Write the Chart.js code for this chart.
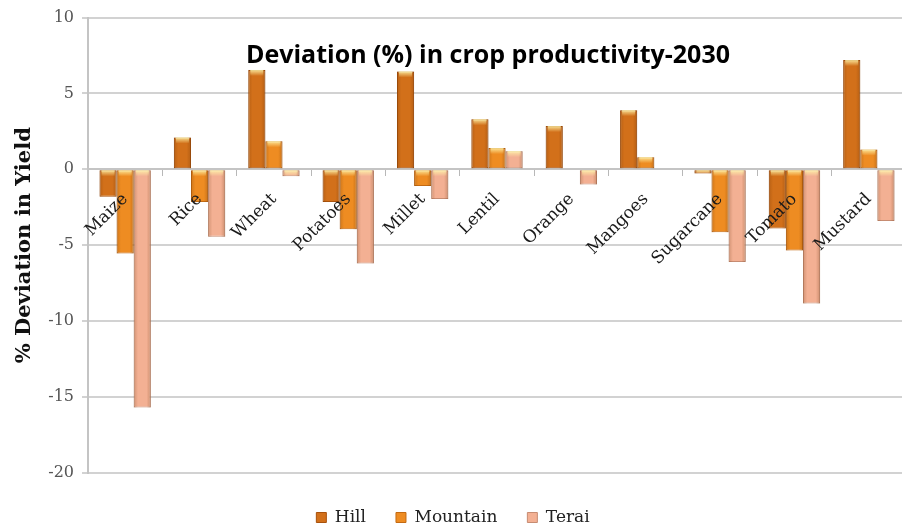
<!DOCTYPE html>
<html>
<head>
<meta charset="utf-8">
<script src="https://cdn.jsdelivr.net/npm/chart.js@4"></script>
<style>
  html, body { margin: 0; padding: 0; background: #fff; overflow: hidden; }
  #wrap { width: 906px; height: 529px; }
</style>
</head>
<body>
<div id="wrap"><canvas id="crops" width="906" height="529"></canvas></div>
<script>
// crop yield deviation by region, 2030
var crops = ['Maize', 'Rice', 'Wheat', 'Potatoes', 'Millet', 'Lentil', 'Orange', 'Mangoes', 'Sugarcane', 'Tomato', 'Mustard'];
var hill = [-1.8, 2.1, 6.55, -2.15, 6.45, 3.3, 2.85, 3.9, -0.27, -3.9, 7.2];
var mountain = [-5.55, -2.15, 1.85, -3.95, -1.1, 1.4, 0, 0.8, -4.15, -5.35, 1.3];
var terai = [-15.7, -4.45, -0.45, -6.2, -1.95, 1.2, -1.0, 0, -6.1, -8.85, -3.4];
var yTicks = [-20, -15, -10, -5, 0, 5, 10];

var serif = "'DejaVu Serif', serif";

// bevel look on each bar: darker edges, light band at the upper end
var barShade = {
  id: 'barShade',
  afterDatasetsDraw: function (chart) {
    var ctx = chart.ctx;
    chart.data.datasets.forEach(function (ds, i) {
      chart.getDatasetMeta(i).data.forEach(function (bar) {
        var p = bar.getProps(['x', 'y', 'base', 'width']);
        var left = p.x - p.width / 2;
        var top = Math.min(p.y, p.base);
        var h = Math.abs(p.base - p.y);
        if (h < 0.5) return;
        ctx.save();
        var g = ctx.createLinearGradient(left, 0, left + p.width, 0);
        g.addColorStop(0, 'rgba(90,40,0,0.22)');
        g.addColorStop(0.25, 'rgba(90,40,0,0)');
        g.addColorStop(0.75, 'rgba(90,40,0,0)');
        g.addColorStop(1, 'rgba(90,40,0,0.25)');
        ctx.fillStyle = g;
        ctx.fillRect(left, top, p.width, h);
        var hh = Math.min(6, h);
        var v = ctx.createLinearGradient(0, top, 0, top + hh);
        v.addColorStop(0, 'rgba(255,245,170,0.85)');
        v.addColorStop(1, 'rgba(255,245,170,0)');
        ctx.fillStyle = v;
        ctx.fillRect(left + 2, top, p.width - 4, hh);
        ctx.restore();
      });
    });
  }
};

var chartTitle = {
  id: 'chartTitle',
  afterDraw: function (chart) {
    var ctx = chart.ctx;
    ctx.save();
    ctx.font = "bold 25px 'Open Sans', sans-serif";
    ctx.fillStyle = '#000';
    ctx.textAlign = 'center';
    ctx.textBaseline = 'alphabetic';
    ctx.fillText('Deviation (%) in crop productivity-2030', 488, 63);
    ctx.restore();
  }
};

new Chart(document.getElementById('crops'), {
  type: 'bar',
  data: {
    labels: crops,
    datasets: [
      { label: 'Hill', data: hill, backgroundColor: '#d2701a', borderColor: '#a9520c', borderWidth: 1 },
      { label: 'Mountain', data: mountain, backgroundColor: '#ee8c22', borderColor: '#c46a12', borderWidth: 1 },
      { label: 'Terai', data: terai, backgroundColor: '#f3b093', borderColor: '#c78c72', borderWidth: 1 }
    ]
  },
  options: {
    responsive: false,
    animation: false,
    events: [],
    layout: { padding: { top: 16, right: 0, bottom: -7, left: 0 } },
    datasets: { bar: { categoryPercentage: 0.69, barPercentage: 1.0, borderSkipped: false } },
    scales: {
      x: {
        position: { y: 0 },
        offset: true,
        grid: { display: true, drawOnChartArea: false, offset: true, tickLength: 6, color: '#b8b8b8', lineWidth: 1 },
        border: { color: '#c4c4c4', width: 2 },
        ticks: {
          z: 1,
          autoSkip: false, maxRotation: 45, minRotation: 45, padding: 14,
          color: '#1a1a1a', font: { family: serif, size: 17 }
        }
      },
      y: {
        min: -20, max: 10,
        afterBuildTicks: function (s) { s.ticks = yTicks.map(function (v) { return { value: v }; }); },
        afterFit: function (s) { s.width = 88; },
        grid: { color: '#d2d2d2', lineWidth: 2, tickLength: 6 },
        border: { color: '#c4c4c4', width: 2 },
        ticks: { color: '#555', padding: 8, font: { family: serif, size: 16 } },
        title: { display: true, text: '% Deviation in Yield', color: '#111', padding: { top: 12, bottom: 10 }, font: { family: serif, size: 21, weight: 'bold' } }
      }
    },
    plugins: {
      legend: {
        position: 'bottom',
        title: { display: true, text: '', font: { size: 1 }, padding: { top: 0, bottom: 5 } },
        labels: { boxWidth: 10, boxHeight: 10, padding: 30, color: '#222', font: { family: serif, size: 17 } }
      },
      tooltip: { enabled: false }
    }
  },
  plugins: [barShade, chartTitle]
});
</script>
</body>
</html>
